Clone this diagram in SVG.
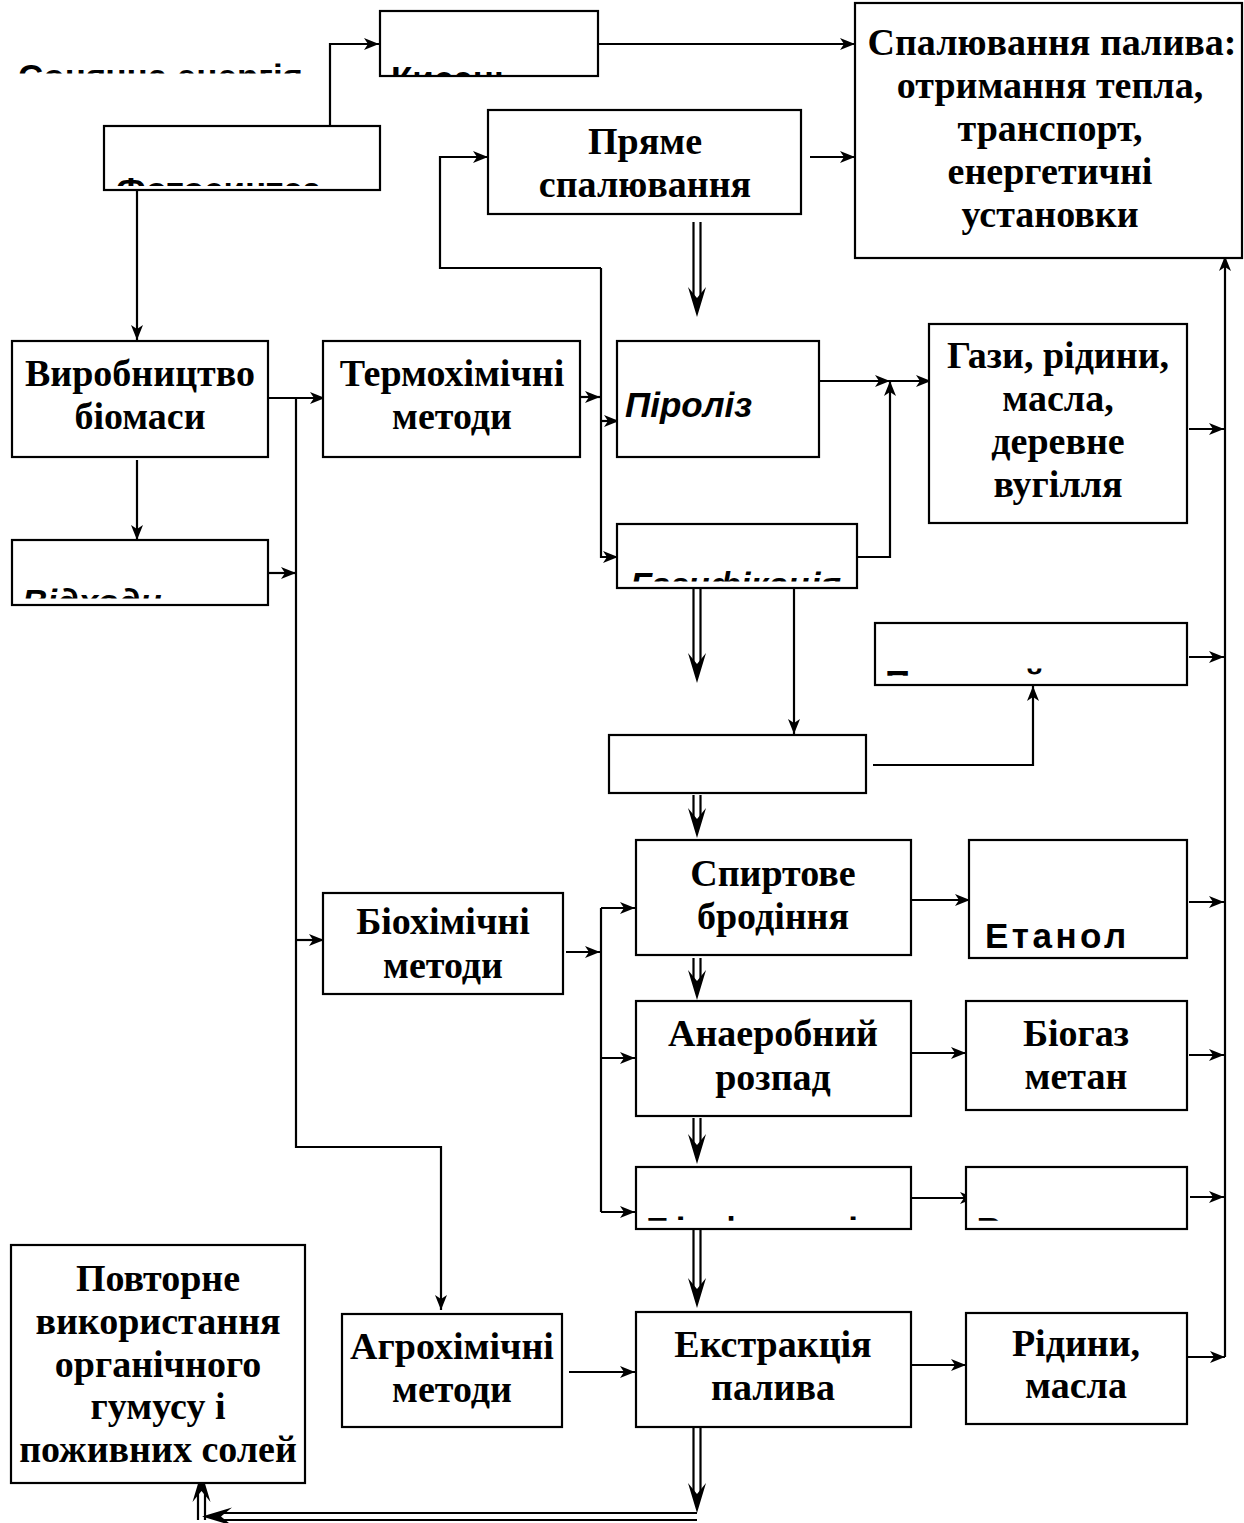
<svg xmlns="http://www.w3.org/2000/svg" width="1244" height="1523" viewBox="0 0 1244 1523">
<style>
.b{fill:#fff;stroke:#000;stroke-width:2.2}
.t{font-family:"Liberation Serif","Times New Roman",serif;font-weight:bold;font-size:38px;text-anchor:middle;fill:#000}
.a{font-family:"Liberation Sans",Arial,sans-serif;font-weight:bold;font-size:35px;fill:#000}
.i{font-style:italic}
.c{fill:none;stroke:#000;stroke-width:2.2}
.d{fill:none;stroke:#000;stroke-width:2.2}
</style>
<defs>
<marker id="ah" viewBox="0 0 15 12" refX="15" refY="6" markerWidth="15" markerHeight="12" markerUnits="userSpaceOnUse" orient="auto"><path d="M0,0 L15,6 L0,12 L4,6 z"/></marker>
<polygon id="dh" points="-9,-30 0,0 9,-30 0,-19"/>
<clipPath id="k1" clipPathUnits="userSpaceOnUse"><rect x="0" y="0" width="320" height="73.5"/></clipPath>
<clipPath id="k2" clipPathUnits="userSpaceOnUse"><rect x="380" y="11" width="218" height="64.5"/></clipPath>
<clipPath id="k3" clipPathUnits="userSpaceOnUse"><rect x="105" y="127" width="274" height="59"/></clipPath>
<clipPath id="k4" clipPathUnits="userSpaceOnUse"><rect x="13" y="541" width="254" height="57.5"/></clipPath>
<clipPath id="k5" clipPathUnits="userSpaceOnUse"><rect x="618" y="525" width="238" height="56.5"/></clipPath>
<clipPath id="k6" clipPathUnits="userSpaceOnUse"><rect x="876" y="624" width="310" height="51.7"/></clipPath>
<clipPath id="k7" clipPathUnits="userSpaceOnUse"><rect x="637" y="1168" width="274" height="52.7"/></clipPath>
<clipPath id="k8" clipPathUnits="userSpaceOnUse"><rect x="967" y="1168" width="219" height="52.7"/></clipPath>
</defs>

<g id="connectors">
<path class="c" marker-end="url(#ah)" d="M330,126 V44 H379"/>
<path class="c" marker-end="url(#ah)" d="M599,44 H855"/>
<path class="c" marker-end="url(#ah)" d="M137,190 V340"/>
<path class="c" marker-end="url(#ah)" d="M810,157 H855"/>
<path class="c" marker-end="url(#ah)" d="M601,268 H440 V157 H488"/>
<path class="c" marker-end="url(#ah)" d="M601,268 V557 H618"/>
<path class="c" marker-end="url(#ah)" d="M577,397 H600"/>
<path class="c" marker-end="url(#ah)" d="M601,421 H619"/>
<path class="c" marker-end="url(#ah)" d="M265,398 H325"/>
<path class="c" marker-end="url(#ah)" d="M296,398 V1147 H441 V1310"/>
<path class="c" marker-end="url(#ah)" d="M265,573 H296"/>
<path class="c" marker-end="url(#ah)" d="M296,940 H324"/>
<path class="c" marker-end="url(#ah)" d="M137,460 V540"/>
<path class="c" marker-end="url(#ah)" d="M820,381 H890"/>
<path class="c" marker-end="url(#ah)" d="M889,381 H931"/>
<path class="c" marker-end="url(#ah)" d="M857,557 H890 V381"/>
<path class="c" marker-end="url(#ah)" d="M1189,429 H1224"/>
<path class="c" marker-end="url(#ah)" d="M1225,1357 V256"/>
<path class="c" marker-end="url(#ah)" d="M1189,657 H1224"/>
<path class="c" marker-end="url(#ah)" d="M794,588 V734"/>
<path class="c" marker-end="url(#ah)" d="M873,765 H1033 V686"/>
<path class="c" marker-end="url(#ah)" d="M566,952 H600"/>
<path class="c" d="M601,908 V1212"/>
<path class="c" marker-end="url(#ah)" d="M601,908 H635"/>
<path class="c" marker-end="url(#ah)" d="M601,1058 H635"/>
<path class="c" marker-end="url(#ah)" d="M601,1212 H635"/>
<path class="c" marker-end="url(#ah)" d="M905,900 H970"/>
<path class="c" marker-end="url(#ah)" d="M1189,902 H1224"/>
<path class="c" marker-end="url(#ah)" d="M908,1053 H966"/>
<path class="c" marker-end="url(#ah)" d="M1189,1055 H1224"/>
<path class="c" marker-end="url(#ah)" d="M912,1198 H975"/>
<path class="c" marker-end="url(#ah)" d="M1190,1197 H1224"/>
<path class="c" marker-end="url(#ah)" d="M569,1372 H635"/>
<path class="c" marker-end="url(#ah)" d="M908,1365 H966"/>
<path class="c" marker-end="url(#ah)" d="M1188,1357 H1225"/>
<path class="d" d="M693.5,222 V300 M700.5,222 V300"/><use href="#dh" x="697" y="317"/>
<path class="d" d="M693.5,589 V666 M700.5,589 V666"/><use href="#dh" x="697" y="683"/>
<path class="d" d="M693.5,795 V821 M700.5,795 V821"/><use href="#dh" x="697" y="838"/>
<path class="d" d="M693.5,958 V983 M700.5,958 V983"/><use href="#dh" x="697" y="1000"/>
<path class="d" d="M693.5,1118 V1147 M700.5,1118 V1147"/><use href="#dh" x="697" y="1164"/>
<path class="d" d="M693.5,1229 V1291 M700.5,1229 V1291"/><use href="#dh" x="697" y="1308"/>
<path class="d" d="M693.5,1427 V1496 M700.5,1427 V1496"/><use href="#dh" x="697" y="1513"/>
<path class="d" d="M697,1513 H220 M697,1520 H220"/><use href="#dh" transform="translate(202,1516.5) rotate(90)"/>
<path class="d" d="M198,1520 V1490 M205,1520 V1490"/><use href="#dh" transform="translate(201.5,1472) rotate(180)"/>
</g>

<g id="n-sun"><text class="a" x="18" y="88.5" font-size="33" clip-path="url(#k1)">Сонячна енергія</text></g>
<g id="n-oxygen"><rect class="b" x="380" y="11" width="218" height="65"/><text class="a" x="391" y="91.2" clip-path="url(#k2)">Кисень</text></g>
<g id="n-combustion"><rect class="b" x="855" y="3" width="387" height="255"/>
<text class="t" x="1052" y="55">Спалювання палива:</text><text class="t" x="1050" y="98">отримання тепла,</text><text class="t" x="1050" y="141">транспорт,</text><text class="t" x="1050" y="184">енергетичні</text><text class="t" x="1050" y="227">установки</text></g>
<g id="n-photo"><rect class="b" x="104" y="126" width="276" height="64"/><text class="a" x="116" y="201.7" clip-path="url(#k3)">Фотосинтез</text></g>
<g id="n-direct"><rect class="b" x="488" y="110" width="313" height="104"/><text class="t" x="645" y="154">Пряме</text><text class="t" x="645" y="197">спалювання</text></g>
<g id="n-biomass"><rect class="b" x="12" y="341" width="256" height="116"/><text class="t" x="140" y="386">Виробництво</text><text class="t" x="140" y="429">біомаси</text></g>
<g id="n-thermo"><rect class="b" x="323" y="341" width="257" height="116"/><text class="t" x="452" y="386">Термохімічні</text><text class="t" x="452" y="429">методи</text></g>
<g id="n-pyro"><rect class="b" x="617" y="341" width="202" height="116"/><text class="a i" x="625" y="417" font-size="40">Піроліз</text></g>
<g id="n-gases"><rect class="b" x="929" y="324" width="258" height="199"/><text class="t" x="1058" y="368">Гази, рідини,</text><text class="t" x="1058" y="411">масла,</text><text class="t" x="1058" y="454">деревне</text><text class="t" x="1058" y="497">вугілля</text></g>
<g id="n-waste"><rect class="b" x="12" y="540" width="256" height="65"/><text class="a i" x="22" y="613.7" clip-path="url(#k4)">Відходи</text></g>
<g id="n-gasif"><rect class="b" x="617" y="524" width="240" height="64"/><text class="a i" x="630" y="596.7" clip-path="url(#k5)">Газифікація</text></g>
<g id="n-fuelgas"><rect class="b" x="875" y="623" width="312" height="62"/><text class="a" x="885" y="695.2" font-size="32" letter-spacing="-2" clip-path="url(#k6)">Паливний газ</text></g>
<g id="n-blank"><rect class="b" x="609" y="735" width="257" height="58"/></g>
<g id="n-ferment"><rect class="b" x="636" y="840" width="275" height="115"/><text class="t" x="773" y="886">Спиртове</text><text class="t" x="773" y="929">бродіння</text></g>
<g id="n-ethanol"><rect class="b" x="969" y="840" width="218" height="118"/><text class="a" x="985" y="948" letter-spacing="3.5">Етанол</text></g>
<g id="n-bio"><rect class="b" x="323" y="893" width="240" height="101"/><text class="t" x="443" y="934">Біохімічні</text><text class="t" x="443" y="978">методи</text></g>
<g id="n-anaer"><rect class="b" x="636" y="1001" width="275" height="115"/><text class="t" x="773" y="1046">Анаеробний</text><text class="t" x="773" y="1090">розпад</text></g>
<g id="n-biogas"><rect class="b" x="966" y="1001" width="221" height="109"/><text class="t" x="1076" y="1046">Біогаз</text><text class="t" x="1076" y="1089">метан</text></g>
<g id="n-photolysis"><rect class="b" x="636" y="1167" width="275" height="62"/><text class="a" x="646" y="1242.3" letter-spacing="4.5" clip-path="url(#k7)">Біофотоліз</text></g>
<g id="n-hydrogen"><rect class="b" x="966" y="1167" width="221" height="62"/><text class="a" x="976.5" y="1242.3" clip-path="url(#k8)">Водень</text></g>
<g id="n-reuse"><rect class="b" x="11" y="1245" width="294" height="238"/><text class="t" x="158" y="1291">Повторне</text><text class="t" x="158" y="1334">використання</text><text class="t" x="158" y="1377">органічного</text><text class="t" x="158" y="1419">гумусу і</text><text class="t" x="158" y="1462">поживних солей</text></g>
<g id="n-agro"><rect class="b" x="342" y="1314" width="220" height="113"/><text class="t" x="452" y="1359">Агрохімічні</text><text class="t" x="452" y="1402">методи</text></g>
<g id="n-extract"><rect class="b" x="636" y="1312" width="275" height="115"/><text class="t" x="773" y="1357">Екстракція</text><text class="t" x="773" y="1400">палива</text></g>
<g id="n-liquids"><rect class="b" x="966" y="1313" width="221" height="111"/><text class="t" x="1076" y="1356">Рідини,</text><text class="t" x="1076" y="1398">масла</text></g>
</svg>
